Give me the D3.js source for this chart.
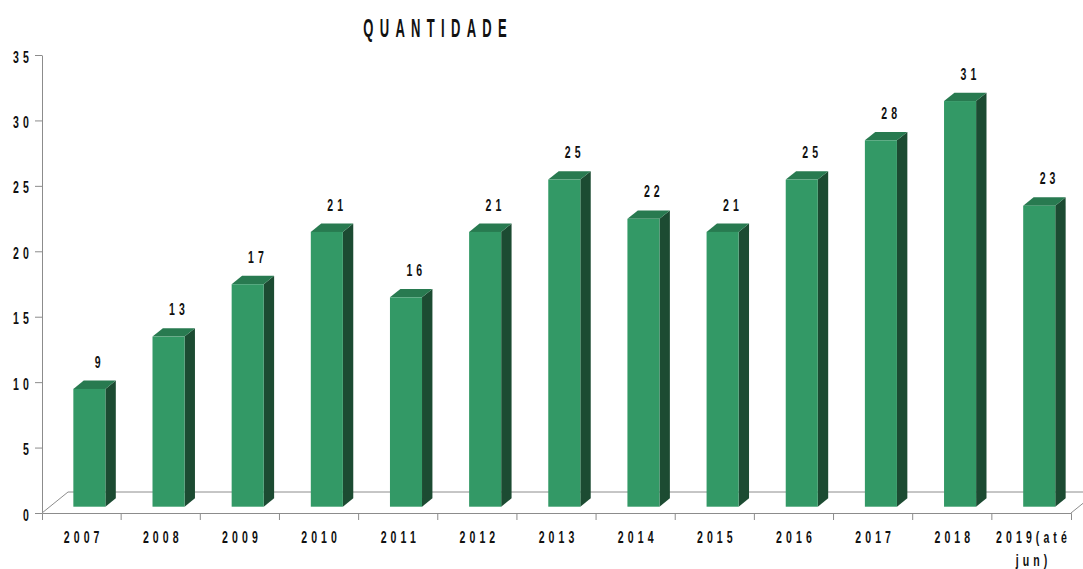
<!DOCTYPE html>
<html>
<head>
<meta charset="utf-8">
<script src="https://cdn.jsdelivr.net/npm/d3@7"></script>
<style>
  body { margin: 0; background: #fff; }
  svg { display: block; font-family: 'Liberation Sans', Arial, sans-serif; }
</style>
</head>
<body>
<script>
var
  categories = ['2007', '2008', '2009', '2010', '2011', '2012', '2013', '2014', '2015', '2016', '2017', '2018', '2019(até\njun)'],
  values = [9, 13, 17, 21, 16, 21, 25, 22, 21, 25, 28, 31, 23],
  yTicks = [0, 5, 10, 15, 20, 25, 30, 35],
  title = 'QUANTIDADE'
  ;

var
  W = 1083, H = 569,
  sx = 0.62,          // horizontal squeeze for narrow type
  ls = 6.6,           // letter spacing (unscaled units)
  depth = {dx: 26, dy: -21},
  frontAt = 0.3, barDepth = 0.4, barFrac = 0.405,
  colFront = '#339966', colSide = '#1c4b32', colTop = '#287a50',
  axisCol = '#8c8c8c', textCol = '#111';

var svg = d3.select('body').append('svg').attr('width', W).attr('height', H);

var x = d3.scaleBand().domain(categories).range([42, 1071]);
var y = d3.scaleLinear().domain([0, 35]).range([513, 55]);

var x0 = x.range()[0], x1 = x.range()[1], y0 = y(0);

// floor
svg.append('path')
  .attr('d', `M${x0},${y0}L${x0 + depth.dx},${y0 + depth.dy}L${x1 + depth.dx},${y0 + depth.dy}L${x1},${y0}`)
  .attr('fill', 'none')
  .attr('stroke', axisCol)
  .attr('stroke-width', 1);

// bars
var
  bw = x.step() * barFrac,
  ox = frontAt * depth.dx, oy = frontAt * depth.dy,
  ddx = barDepth * depth.dx, ddy = barDepth * depth.dy;

var bars = svg.selectAll('.bar')
  .data(categories.map((c, i) => ({cat: c, v: values[i]})))
  .enter()
  .append('g')
  .attr('class', 'bar')
  .each(function(d) {
    var
      g = d3.select(this),
      fx = x(d.cat) + (x.step() - bw) / 2 + ox,
      fb = y(0) + oy,
      ft = y(d.v) + oy;
    g.append('path')
      .attr('d', `M${fx + bw},${ft}L${fx + bw + ddx},${ft + ddy}L${fx + bw + ddx},${fb + ddy}L${fx + bw},${fb}Z`)
      .attr('fill', colSide);
    g.append('path')
      .attr('d', `M${fx},${ft}L${fx + ddx},${ft + ddy}L${fx + bw + ddx},${ft + ddy}L${fx + bw},${ft}Z`)
      .attr('fill', colTop);
    g.append('rect')
      .attr('x', fx).attr('y', ft)
      .attr('width', bw).attr('height', fb - ft)
      .attr('fill', colFront);
    g.append('text')
      .attr('transform', `translate(${fx + bw / 2 + ddx * 0.8},${ft + ddy - 13}) scale(${sx},1)`)
      .attr('text-anchor', 'middle')
      .attr('dx', ls / 2)
      .attr('font-size', 17)
      .attr('font-weight', 700)
      .attr('letter-spacing', ls)
      .attr('fill', textCol)
      .text(d.v);
  });

// y axis
var gy = svg.append('g')
  .attr('transform', `translate(${x0},0)`)
  .call(d3.axisLeft(y).tickValues(yTicks).tickSize(7).tickSizeOuter(0));
gy.selectAll('path, line').attr('stroke', axisCol);
gy.selectAll('text')
  .attr('x', 0).attr('dy', null)
  .attr('transform', `translate(-9,7) scale(${sx},1)`)
  .attr('font-size', 17)
  .attr('font-weight', 700)
  .attr('font-family', null)
  .attr('letter-spacing', ls)
  .attr('fill', textCol);

// x axis
var gx = svg.append('g')
  .attr('transform', `translate(0,${y0})`)
  .call(d3.axisBottom(x).tickSizeInner(0).tickSizeOuter(7));
gx.selectAll('path, line').attr('stroke', axisCol);
gx.selectAll('.tick text').each(function(d) {
  var t = d3.select(this);
  t.text(null)
    .attr('y', 0).attr('dy', null)
    .attr('transform', `translate(0,30) scale(${sx},1)`)
    .attr('font-size', 17)
    .attr('font-weight', 700)
    .attr('letter-spacing', ls)
    .attr('fill', textCol);
  d.split('\n').forEach((line, i) => {
    t.append('tspan')
      .attr('x', ls / 2)
      .attr('dy', i ? 23 : 0)
      .text(line);
  });
});
gx.attr('font-family', null);
gx.selectAll('.bound')
  .data(categories.slice(1))
  .enter()
  .append('line')
  .attr('class', 'bound')
  .attr('x1', d => x(d)).attr('x2', d => x(d))
  .attr('y1', 0).attr('y2', 7)
  .attr('stroke', axisCol);
gy.attr('font-family', null);

// title
svg.append('text')
  .attr('transform', `translate(435,37) scale(0.5,1)`)
  .attr('text-anchor', 'middle')
  .attr('dx', 6.3)
  .attr('font-size', 26)
  .attr('font-weight', 700)
  .attr('letter-spacing', 12.6)
  .attr('fill', textCol)
  .text(title);
</script>
</body>
</html>
